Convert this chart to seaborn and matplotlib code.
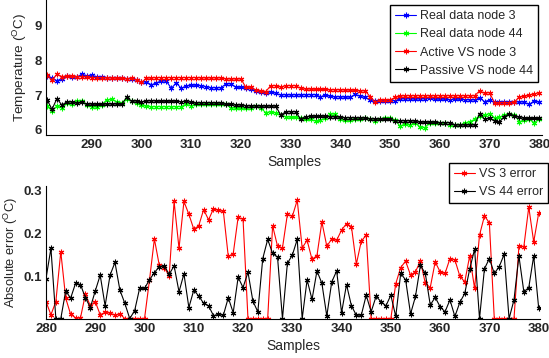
import pandas as pd
import matplotlib
matplotlib.use("Agg")
import matplotlib.pyplot as plt
import seaborn as sns

# samples of the two panels
samples_top = list(range(281, 381))
samples_err = list(range(280, 381))

real_node3 = [7.54, 7.49, 7.41, 7.47, 7.54, 7.52, 7.51, 7.60, 7.55, 7.57,
              7.52, 7.51, 7.50, 7.50, 7.50, 7.48, 7.47, 7.47, 7.43, 7.36,
              7.38, 7.29, 7.35, 7.40, 7.40, 7.19, 7.35, 7.19, 7.26, 7.28,
              7.28, 7.27, 7.24, 7.21, 7.21, 7.21, 7.32, 7.32, 7.22, 7.22,
              7.20, 7.18, 7.12, 7.08, 7.05, 7.10, 7.05, 7.00, 7.01, 7.00,
              7.01, 7.00, 7.01, 7.01, 7.01, 6.95, 7.00, 6.96, 6.95, 6.95,
              6.94, 6.94, 7.02, 6.96, 6.93, 6.86, 6.84, 6.84, 6.84, 6.84,
              6.84, 6.89, 6.89, 6.89, 6.88, 6.89, 6.89, 6.91, 6.88, 6.88,
              6.88, 6.87, 6.88, 6.88, 6.87, 6.86, 6.86, 6.92, 6.81, 6.86,
              6.79, 6.79, 6.79, 6.79, 6.79, 6.81, 6.79, 6.73, 6.84, 6.79]

real_node44 = [6.68, 6.55, 6.68, 6.64, 6.76, 6.74, 6.83, 6.83, 6.72, 6.67,
               6.65, 6.72, 6.86, 6.88, 6.81, 6.76, 6.90, 6.83, 6.76, 6.71,
               6.68, 6.67, 6.67, 6.67, 6.67, 6.67, 6.67, 6.67, 6.74, 6.69,
               6.74, 6.74, 6.74, 6.74, 6.74, 6.74, 6.73, 6.64, 6.62, 6.62,
               6.62, 6.64, 6.69, 6.62, 6.50, 6.52, 6.49, 6.43, 6.38, 6.36,
               6.36, 6.33, 6.30, 6.30, 6.26, 6.28, 6.33, 6.46, 6.45, 6.30,
               6.28, 6.28, 6.30, 6.30, 6.33, 6.31, 6.26, 6.32, 6.33, 6.33,
               6.28, 6.11, 6.17, 6.14, 6.21, 6.09, 6.07, 6.21, 6.19, 6.19,
               6.19, 6.14, 6.14, 6.14, 6.19, 6.24, 6.30, 6.40, 6.43, 6.47,
               6.35, 6.36, 6.43, 6.47, 6.43, 6.24, 6.28, 6.30, 6.21, 6.31]

active_vs3 = [7.56, 7.43, 7.59, 7.53, 7.54, 7.54, 7.53, 7.53, 7.52, 7.50,
              7.50, 7.50, 7.49, 7.49, 7.48, 7.48, 7.47, 7.48, 7.43, 7.36,
              7.48, 7.49, 7.50, 7.50, 7.50, 7.50, 7.50, 7.50, 7.50, 7.50,
              7.50, 7.49, 7.49, 7.49, 7.49, 7.49, 7.46, 7.46, 7.46, 7.46,
              7.22, 7.22, 7.14, 7.12, 7.10, 7.27, 7.27, 7.23, 7.27, 7.27,
              7.27, 7.19, 7.17, 7.17, 7.16, 7.16, 7.16, 7.15, 7.15, 7.15,
              7.14, 7.14, 7.13, 7.12, 7.12, 6.95, 6.79, 6.86, 6.86, 6.86,
              6.93, 6.97, 6.98, 6.98, 6.98, 6.98, 6.98, 6.98, 6.98, 6.98,
              6.98, 6.98, 6.98, 6.98, 6.98, 6.98, 6.98, 7.12, 7.05, 7.07,
              6.78, 6.78, 6.78, 6.78, 6.80, 6.95, 6.96, 7.00, 7.03, 7.07]

passive_vs44 = [6.87, 6.59, 6.90, 6.71, 6.81, 6.80, 6.76, 6.79, 6.74, 6.74,
                6.73, 6.73, 6.74, 6.74, 6.74, 6.73, 6.93, 6.82, 6.83, 6.81,
                6.82, 6.84, 6.82, 6.82, 6.82, 6.82, 6.82, 6.81, 6.82, 6.79,
                6.78, 6.78, 6.78, 6.78, 6.77, 6.77, 6.73, 6.73, 6.71, 6.71,
                6.70, 6.68, 6.69, 6.68, 6.68, 6.68, 6.68, 6.43, 6.52, 6.52,
                6.52, 6.31, 6.38, 6.39, 6.39, 6.39, 6.39, 6.38, 6.37, 6.37,
                6.35, 6.35, 6.35, 6.34, 6.34, 6.32, 6.31, 6.31, 6.30, 6.30,
                6.27, 6.26, 6.26, 6.26, 6.25, 6.22, 6.22, 6.22, 6.22, 6.21,
                6.21, 6.21, 6.15, 6.14, 6.14, 6.14, 6.14, 6.47, 6.31, 6.33,
                6.26, 6.24, 6.38, 6.47, 6.40, 6.36, 6.33, 6.33, 6.33, 6.33]

vs3_error = [0.040, 0.009, 0.040, 0.157, 0.048, 0.010, 0.002, 0.002, 0.057, 0.030,
             0.040, 0.009, 0.015, 0.013, 0.008, 0.011, 0.0, 0.0, 0.0, 0.0,
             0.0, 0.090, 0.187, 0.125, 0.120, 0.100, 0.275, 0.165, 0.275, 0.245,
             0.210, 0.218, 0.256, 0.232, 0.258, 0.254, 0.252, 0.146, 0.152, 0.238,
             0.233, 0.0, 0.0, 0.0, 0.0, 0.0, 0.218, 0.170, 0.166, 0.245,
             0.240, 0.278, 0.166, 0.184, 0.139, 0.148, 0.227, 0.170, 0.187, 0.184,
             0.208, 0.223, 0.216, 0.128, 0.182, 0.196, 0.0, 0.0, 0.0, 0.0,
             0.0, 0.082, 0.120, 0.135, 0.102, 0.110, 0.135, 0.083, 0.073, 0.133,
             0.110, 0.106, 0.141, 0.138, 0.100, 0.086, 0.147, 0.071, 0.196, 0.241,
             0.225, 0.0, 0.0, 0.0, 0.0, 0.0, 0.170, 0.169, 0.262, 0.180,
             0.247]

vs44_error = [0.094, 0.165, 0.0, 0.0, 0.065, 0.048, 0.083, 0.080, 0.049, 0.026,
              0.065, 0.102, 0.030, 0.102, 0.132, 0.067, 0.036, 0.0, 0.019, 0.071,
              0.071, 0.091, 0.108, 0.122, 0.124, 0.104, 0.124, 0.063, 0.105, 0.026,
              0.067, 0.053, 0.036, 0.030, 0.007, 0.010, 0.008, 0.049, 0.014, 0.097,
              0.073, 0.109, 0.041, 0.016, 0.141, 0.186, 0.153, 0.144, 0.0, 0.130,
              0.149, 0.186, 0.0, 0.091, 0.045, 0.112, 0.083, 0.006, 0.086, 0.112,
              0.014, 0.080, 0.030, 0.008, 0.008, 0.055, 0.016, 0.052, 0.040, 0.030,
              0.055, 0.005, 0.106, 0.091, 0.011, 0.052, 0.125, 0.106, 0.032, 0.050,
              0.028, 0.016, 0.044, 0.005, 0.038, 0.059, 0.116, 0.163, 0.0, 0.117,
              0.141, 0.106, 0.122, 0.151, 0.0, 0.044, 0.147, 0.063, 0.073, 0.147,
              0.026]

sns.set_style("white")
plt.rcParams["font.family"] = ["Liberation Sans", "DejaVu Sans"]
plt.rcParams["mathtext.fontset"] = "custom"
plt.rcParams["mathtext.rm"] = "Liberation Sans"

fig = plt.figure(figsize=(5.49, 3.58), dpi=100)
ax1 = fig.add_axes([0.0838, 0.623, 0.903, 0.377])
ax2 = fig.add_axes([0.0838, 0.110, 0.900, 0.370])

star = (6, 2, 0)


def draw(ax, x, y, color, label):
    sns.lineplot(x=x, y=y, ax=ax, color=color, label=label, marker=star,
                 markersize=4, markeredgecolor=color, markeredgewidth=0.8,
                 linewidth=0.8)


# Top panel: temperatures
draw(ax1, samples_top, real_node3, "#0000ff", "Real data node 3")
draw(ax1, samples_top, real_node44, "#00ff00", "Real data node 44")
draw(ax1, samples_top, active_vs3, "#ff0000", "Active VS node 3")
draw(ax1, samples_top, passive_vs44, "black", "Passive VS node 44")
ax1.set_xlim(280.8, 380.5)
ax1.set_ylim(5.857, 9.72)
ax1.set_xticks(range(290, 381, 10))
ax1.set_yticks([6, 7, 8, 9])
ax1.set_xlabel("Samples", fontsize=10, labelpad=3)
ax1.set_ylabel(r"Temperature ($^{\mathrm{O}}$C)", fontsize=9.7, labelpad=4)

# Bottom panel: absolute errors
draw(ax2, samples_err, vs3_error, "#ff0000", "VS 3 error")
draw(ax2, samples_err, vs44_error, "black", "VS 44 error")
ax2.set_xlim(280, 380.3)
ax2.set_ylim(0, 0.311)
ax2.set_xticks(range(280, 381, 10))
ax2.set_yticks([0.1, 0.2, 0.3])
ax2.set_xlabel("Samples", fontsize=10, labelpad=3)
ax2.set_ylabel(r"Absolute error ($^{\mathrm{O}}$C)", fontsize=9.3, labelpad=2)

for ax in (ax1, ax2):
    sns.despine(ax=ax)
    ax.tick_params(direction="in", length=3, width=0.6, labelsize=9.5, pad=3)
    for t in ax.get_xticklabels() + ax.get_yticklabels():
        t.set_fontweight("bold")
    for s in ("left", "bottom"):
        ax.spines[s].set_linewidth(0.8)
        ax.spines[s].set_color("black")

legend_style = dict(loc="upper right", bbox_transform=fig.transFigure,
                    fancybox=False, edgecolor="black", framealpha=1,
                    fontsize=9, handlelength=1.7, handletextpad=0.3,
                    borderpad=0.4, labelspacing=0.5, borderaxespad=0)
ax1.legend(bbox_to_anchor=(0.98, 0.986), **legend_style)
ax2.legend(bbox_to_anchor=(0.998, 0.545), **legend_style)

fig.savefig("out.png", dpi=100)
